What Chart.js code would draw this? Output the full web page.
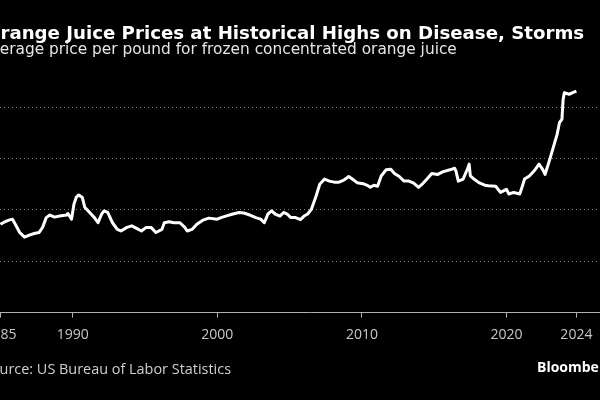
<!DOCTYPE html>
<html>
<head>
<meta charset="utf-8">
<script src="https://cdn.jsdelivr.net/npm/chart.js@4"></script>
<style>
  html, body { margin: 0; padding: 0; background: #000; }
  body { width: 600px; height: 400px; overflow: hidden; position: relative; font-family: "Open Sans", sans-serif; }
  .txt { position: absolute; white-space: nowrap; z-index: 2; line-height: 1; top: 0; left: 0; }
  #title { font-family: "DejaVu Sans", sans-serif; font-size: 18px; font-weight: bold; color: #fff; }
  #subtitle { font-family: "DejaVu Sans", sans-serif; font-size: 15px; color: #e6e6e6; }
  #source { font-size: 14px; color: #cfcfcf; }
  #brand { font-size: 14px; font-weight: bold; color: #fff; }
  .base { display: inline-block; width: 0; height: 0; }
  #wrap { position: absolute; left: -40px; top: 0; width: 660px; height: 360px; }
</style>
</head>
<body>
<div class="txt" id="title"><span class="cut">O</span>range Juice Prices at Historical Highs on Disease, Storms<span class="base"></span></div>
<div class="txt" id="subtitle"><span class="cut">Av</span>erage price per pound for frozen concentrated orange juice<span class="base"></span></div>
<div class="txt" id="source"><span class="cut">So</span>urce: US Bureau of Labor Statistics<span class="base"></span></div>
<div class="txt" id="brand">Bloomberg<span class="base"></span></div>
<div id="wrap"><canvas id="chart"></canvas></div>
<script>
// Prix moyen (USD par livre)
const months = [
  "1985-01", "1985-04", "1985-08", "1985-11", "1986-02", "1986-05", "1986-09",
  "1987-01", "1987-05", "1987-09", "1987-12", "1988-03", "1988-06", "1988-10",
  "1989-02", "1989-08", "1989-09", "1989-12", "1990-02", "1990-04", "1990-06",
  "1990-09", "1990-11", "1991-03", "1991-07", "1991-10", "1992-01", "1992-03",
  "1992-06", "1992-10", "1993-02", "1993-05", "1993-10", "1994-02", "1994-06",
  "1994-10", "1995-02", "1995-06", "1995-10", "1996-03", "1996-05", "1996-09",
  "1997-01", "1997-06", "1997-10", "1997-12", "1998-04", "1998-08", "1999-01",
  "1999-06", "2000-01", "2000-04", "2000-08", "2001-02", "2001-07", "2001-11",
  "2002-04", "2002-09", "2003-01", "2003-04", "2003-07", "2003-10", "2004-01",
  "2004-05", "2004-08", "2004-11", "2005-02", "2005-06", "2005-10", "2006-01",
  "2006-04", "2006-07", "2006-11", "2007-02", "2007-06", "2007-10", "2008-02",
  "2008-06", "2008-10", "2009-02", "2009-05", "2009-09", "2010-02", "2010-06",
  "2010-08", "2010-11", "2011-02", "2011-05", "2011-09", "2012-01", "2012-04",
  "2012-08", "2012-12", "2013-04", "2013-08", "2013-12", "2014-03", "2014-07",
  "2014-11", "2015-04", "2015-08", "2016-02", "2016-06", "2016-07", "2016-09",
  "2017-01", "2017-05", "2017-06", "2017-07", "2017-10", "2018-02", "2018-07",
  "2018-10", "2019-04", "2019-08", "2020-01", "2020-03", "2020-07", "2020-12",
  "2021-02", "2021-04", "2021-08", "2021-12", "2022-04", "2022-07", "2022-09",
  "2023-01", "2023-05", "2023-07", "2023-09", "2023-11", "2023-12", "2024-01",
  "2024-05", "2024-08", "2024-11"
];
const prices = [
  1.72, 1.76, 1.80, 1.82, 1.69, 1.56, 1.47,
  1.51, 1.54, 1.56, 1.66, 1.85, 1.90, 1.86,
  1.88, 1.90, 1.93, 1.82, 2.11, 2.25, 2.29,
  2.24, 2.05, 1.95, 1.85, 1.75, 1.92, 1.98,
  1.95, 1.75, 1.62, 1.59, 1.66, 1.69, 1.64,
  1.59, 1.66, 1.66, 1.56, 1.62, 1.75, 1.77,
  1.75, 1.75, 1.66, 1.59, 1.62, 1.72, 1.80,
  1.84, 1.82, 1.85, 1.88, 1.92, 1.95, 1.94,
  1.90, 1.85, 1.82, 1.75, 1.92, 1.98, 1.92,
  1.88, 1.95, 1.92, 1.85, 1.85, 1.81, 1.88,
  1.92, 2.01, 2.27, 2.50, 2.60, 2.56, 2.54,
  2.54, 2.58, 2.65, 2.60, 2.53, 2.51, 2.47,
  2.44, 2.48, 2.46, 2.66, 2.78, 2.79, 2.71,
  2.65, 2.56, 2.56, 2.52, 2.44, 2.50, 2.60,
  2.71, 2.69, 2.74, 2.78, 2.81, 2.76, 2.56,
  2.60, 2.82, 2.89, 2.66, 2.60, 2.53, 2.48,
  2.47, 2.46, 2.34, 2.40, 2.31, 2.34, 2.31,
  2.45, 2.60, 2.66, 2.76, 2.89, 2.79, 2.69,
  2.99, 3.31, 3.47, 3.70, 3.76, 4.15, 4.28,
  4.25, 4.28, 4.31
];
const tickYears = [1985, 1990, 2000, 2010, 2020];
const gridValues = [1, 2, 3, 4];

// Placer un texte : ligne de base, coupe à gauche, largeur visible voulue
function placeText(id, baseline, right, left) {
  const el = document.getElementById(id);
  const cut = el.querySelector(".cut");
  if (right) {
    const size = parseFloat(getComputedStyle(el).fontSize);
    const visible = el.offsetWidth - (cut ? cut.offsetWidth : 0);
    el.style.fontSize = (size * right) / visible + "px";
  }
  const cutW = cut ? cut.offsetWidth : 0;
  el.style.left = (left !== undefined ? left : -cutW) + "px";
  const base = el.querySelector(".base");
  el.style.top = baseline - base.offsetTop + "px";
}
placeText("title", 39, 585);
placeText("subtitle", 54, 458);
placeText("source", 374, 232);
placeText("brand", 372, null, 537);

function toYear(m) {
  const [y, mo] = m.split("-").map(Number);
  return y + (mo - 1) / 12;
}

const points = months.map((m, i) => ({ x: toYear(m), y: prices[i] }));
const lastX = points[points.length - 1].x;

const ctx = document.getElementById("chart").getContext("2d");
new Chart(ctx, {
  type: "line",
  data: {
    datasets: [
      {
        data: points,
        borderColor: "#ffffff",
        borderWidth: 3,
        pointRadius: 0,
        tension: 0,
        borderJoinStyle: "round",
      },
    ],
  },
  options: {
    responsive: true,
    maintainAspectRatio: false,
    animation: false,
    layout: { padding: { left: 40, right: 0, top: 81.4, bottom: 0 } },
    plugins: { legend: { display: false }, tooltip: { enabled: false } },
    scales: {
      x: {
        type: "linear",
        min: 1984.97,
        max: 2027.85,
        afterBuildTicks: (scale) => {
          scale.ticks = tickYears.concat([lastX]).map((v) => ({ value: v }));
        },
        afterFit: (scale) => {
          scale.height = 47.3;
        },
        ticks: {
          autoSkip: false,
          maxRotation: 0,
          padding: 9,
          color: "#c8c8c8",
          font: { family: "Open Sans", size: 14 },
          callback: (v) => Math.floor(v),
        },
        grid: {
          drawOnChartArea: false,
          drawTicks: true,
          tickLength: 5,
          tickColor: "#b0b0b0",
          tickWidth: 1,
        },
        border: { display: true, color: "#b0b0b0", width: 1 },
      },
      y: {
        min: 0,
        max: 4.5,
        afterBuildTicks: (scale) => {
          scale.ticks = gridValues.map((v) => ({ value: v }));
        },
        ticks: { display: false },
        grid: { color: "#808080", lineWidth: 1, drawTicks: false },
        border: { display: false, dash: [1, 3] },
      },
    },
  },
});
</script>
</body>
</html>
